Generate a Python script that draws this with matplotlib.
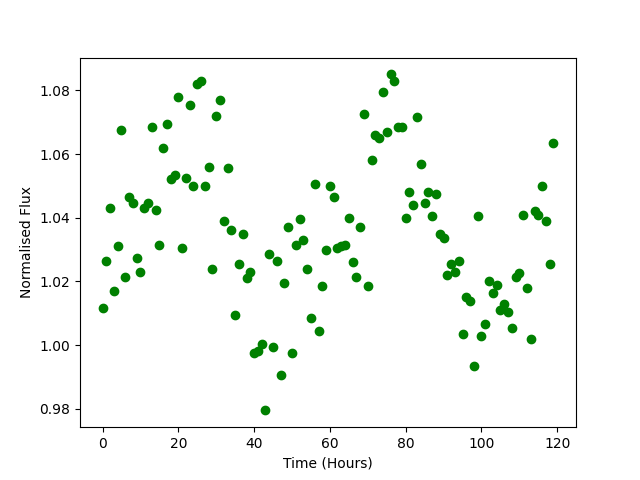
import matplotlib
matplotlib.use("Agg")
import matplotlib.pyplot as plt
import numpy as np

hours = np.arange(120)
flux = [
    1.0115, 1.0265, 1.043, 1.017, 1.031, 1.0675, 1.0215, 1.0465, 1.0445, 1.0275,
    1.023, 1.043, 1.0445, 1.0685, 1.0425, 1.0315, 1.062, 1.0695, 1.052, 1.0535,
    1.078, 1.0305, 1.0525, 1.0755, 1.050, 1.082, 1.083, 1.050, 1.056, 1.024,
    1.072, 1.077, 1.039, 1.0555, 1.036, 1.0095, 1.0255, 1.035, 1.021, 1.023,
    0.9975, 0.998, 1.0005, 0.9795, 1.0285, 0.9995, 1.0265, 0.9905, 1.0195, 1.037,
    0.9975, 1.0315, 1.0395, 1.033, 1.024, 1.0085, 1.0505, 1.0045, 1.0185, 1.030,
    1.050, 1.0465, 1.0305, 1.031, 1.0315, 1.040, 1.026, 1.0215, 1.037, 1.0725,
    1.0185, 1.058, 1.066, 1.065, 1.0795, 1.067, 1.085, 1.083, 1.0685, 1.0685,
    1.040, 1.048, 1.044, 1.0715, 1.057, 1.0445, 1.048, 1.0405, 1.0475, 1.035,
    1.0335, 1.022, 1.0255, 1.023, 1.0265, 1.0035, 1.015, 1.014, 0.9935, 1.0405,
    1.003, 1.0065, 1.020, 1.0165, 1.019, 1.011, 1.013, 1.0105, 1.0055, 1.0215,
    1.0225, 1.041, 1.018, 1.002, 1.042, 1.041, 1.050, 1.039, 1.0255, 1.0635,
]

fig, ax = plt.subplots(figsize=(6.4, 4.8), dpi=100)
ax.plot(hours, flux, 'o', color='green')
ax.set_xlabel('Time (Hours)')
ax.set_ylabel('Normalised Flux')
fig.savefig('out.png')
